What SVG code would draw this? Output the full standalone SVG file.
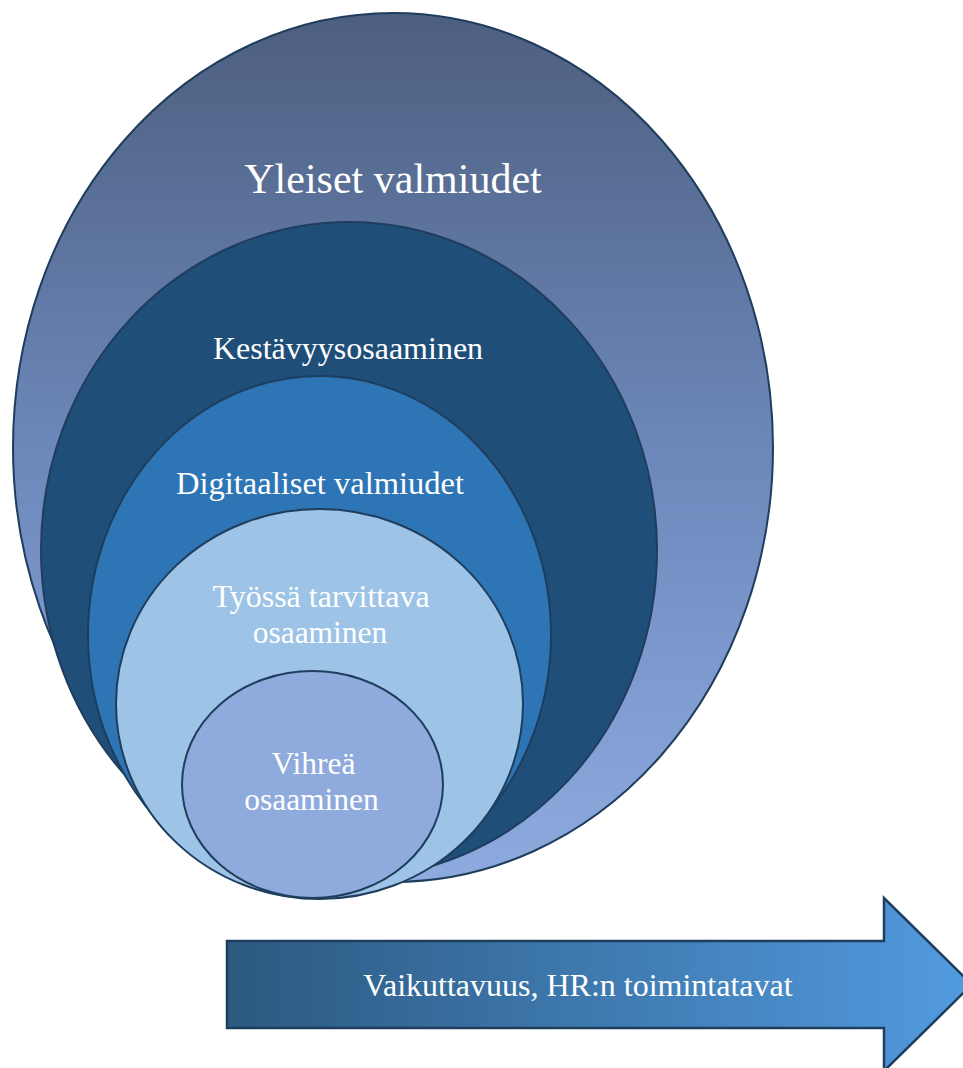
<svg xmlns="http://www.w3.org/2000/svg" width="963" height="1068" viewBox="0 0 963 1068">
  <defs>
    <linearGradient id="outerFill" x1="0" y1="0" x2="0" y2="1">
      <stop offset="0" stop-color="#4d5f7f"/>
      <stop offset="0.5" stop-color="#6c87ba"/>
      <stop offset="1" stop-color="#8eabe0"/>
    </linearGradient>
    <linearGradient id="arrowFill" x1="0" y1="0" x2="1" y2="0">
      <stop offset="0" stop-color="#2c5980"/>
      <stop offset="1" stop-color="#529be0"/>
    </linearGradient>
    <style>
      .ring { stroke: #1f3d5c; stroke-width: 2; }
      .lbl { font-family: "Liberation Serif", "Times New Roman", serif; fill: #ffffff; text-anchor: middle; }
    </style>
  </defs>

  <!-- nested competence layers, outermost first -->
  <g id="yleiset">
    <ellipse class="ring" cx="393" cy="447.5" rx="380" ry="434.5" fill="url(#outerFill)"/>
    <text class="lbl" x="393" y="193" font-size="42">Yleiset valmiudet</text>
  </g>
  <g id="kestavyys">
    <ellipse class="ring" cx="349" cy="550" rx="308" ry="328" fill="#1f4e79"/>
    <text class="lbl" x="348" y="359" font-size="32">Kestävyysosaaminen</text>
  </g>
  <g id="digitaaliset">
    <ellipse class="ring" cx="319.5" cy="635" rx="231.5" ry="259" fill="#2e75b6"/>
    <text class="lbl" x="320" y="494" font-size="32.5">Digitaaliset valmiudet</text>
  </g>
  <g id="tyossa">
    <ellipse class="ring" cx="319.5" cy="704" rx="203.5" ry="195" fill="#9dc3e6"/>
    <text class="lbl" x="321" y="607" font-size="32">Työssä tarvittava</text>
    <text class="lbl" x="320" y="643" font-size="31.5">osaaminen</text>
  </g>
  <g id="vihrea">
    <ellipse class="ring" cx="312.5" cy="784.5" rx="130.5" ry="113.5" fill="#8faadc"/>
    <text class="lbl" x="313.5" y="774" font-size="31.5">Vihreä</text>
    <text class="lbl" x="311.5" y="810" font-size="31.5">osaaminen</text>
  </g>

  <!-- direction arrow -->
  <g id="vaikuttavuus">
    <path d="M227,941 H884 V898 L972,984.5 L884,1071 V1028 H227 Z" fill="url(#arrowFill)" stroke="#1f3d5c" stroke-width="2.5" stroke-linejoin="miter"/>
    <text class="lbl" x="578" y="996" font-size="32">Vaikuttavuus, HR:n toimintatavat</text>
  </g>
</svg>
